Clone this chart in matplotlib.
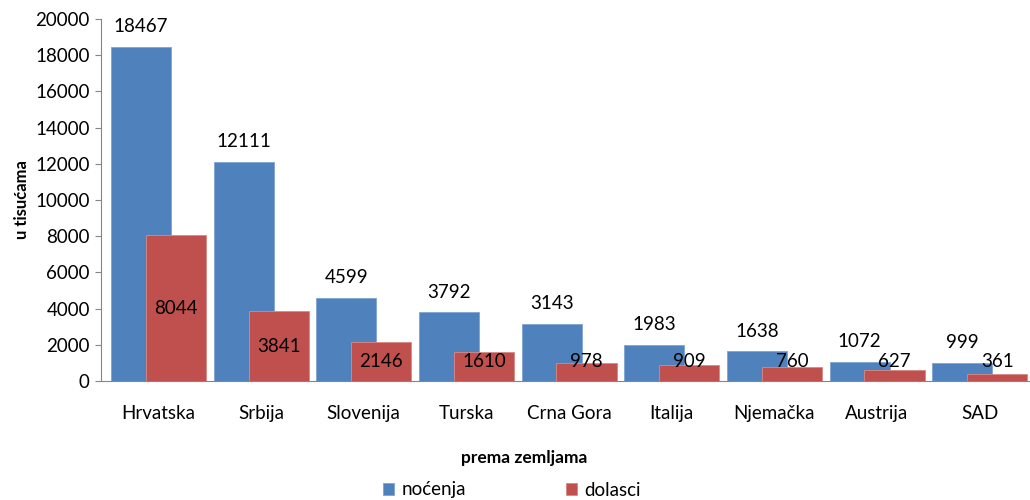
import matplotlib.pyplot as plt
import numpy as np

plt.rcParams['font.family'] = ['Lato', 'DejaVu Sans']

zemlje = ['Hrvatska', 'Srbija', 'Slovenija', 'Turska', 'Crna Gora', 'Italija',
          'Njemačka', 'Austrija', 'SAD']
nocenja = [18467, 12111, 4599, 3792, 3143, 1983, 1638, 1072, 999]
dolasci = [8044, 3841, 2146, 1610, 978, 909, 760, 627, 361]

plava = '#4F81BD'
crvena = '#C0504D'
fs = 13.5

fig = plt.figure(figsize=(10.3, 5.0), dpi=100)
ax = fig.add_axes([0.098, 0.238, 0.902, 0.724])

x = np.arange(len(zemlje))
w = 0.585
ax.bar(x - 0.17, nocenja, w, color=plava, edgecolor='#7fa3d3', linewidth=0.6, zorder=2, label='noćenja')
ax.bar(x + 0.17, dolasci, w, color=crvena, edgecolor='#d98987', linewidth=0.6, zorder=3, label='dolasci')

# oznake vrijednosti
for xi, v in zip(x, nocenja):
    ax.annotate(str(v), (xi - 0.17, v), xytext=(0, 14.5), textcoords='offset points',
                ha='center', va='center', fontsize=fs, zorder=4)
for xi, v in zip(x, dolasci):
    ax.text(xi + 0.17, max(v / 2, 1050), str(v), ha='center', va='center',
            fontsize=fs, zorder=4)

ax.set_xlim(-0.56, 8.49)
ax.set_ylim(0, 20000)
ax.set_yticks(range(0, 20001, 2000))
ax.set_xticks(x)
ax.set_xticklabels(zemlje)

for s in ['top', 'right']:
    ax.spines[s].set_visible(False)
ax.spines['left'].set_color('#868686')
ax.spines['bottom'].set_color('#868686')
ax.tick_params(axis='y', length=4, color='#868686', labelsize=fs, pad=4)
ax.tick_params(axis='x', length=0, labelsize=fs, pad=17)

ax.set_ylabel('u tisućama', fontsize=12, fontweight='bold', labelpad=4)
ax.set_xlabel('prema zemljama', fontsize=12.5, fontweight='bold', va='center')
ax.xaxis.set_label_coords(0.456, -0.213)

fig.legend(loc='center', bbox_to_anchor=(0.497, 0.02), ncol=2, frameon=False,
           fontsize=fs, handlelength=0.6, handleheight=0.6, handletextpad=0.4,
           columnspacing=5.3, borderaxespad=0, borderpad=0)

fig.savefig('out.png', dpi=100)
